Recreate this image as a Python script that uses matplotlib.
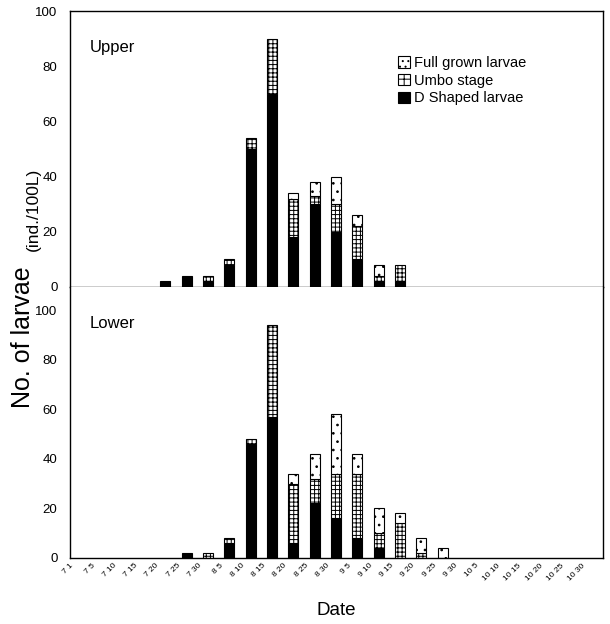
import numpy as np
import matplotlib.pyplot as plt
from matplotlib.patches import Patch
import matplotlib.transforms as mtransforms

plt.rcParams['font.family'] = ['Liberation Sans', 'DejaVu Sans']
plt.rcParams['hatch.linewidth'] = 0.7

# sampling dates (month day)
dates = ["7 1", "7 5", "7 10", "7 15", "7 20", "7 25", "7 30",
         "8 5", "8 10", "8 15", "8 20", "8 25", "8 30",
         "9 5", "9 10", "9 15", "9 20", "9 25", "9 30",
         "10 5", "10 10", "10 15", "10 20", "10 25", "10 30"]

# Upper layer (ind./100L)
upper_d_shaped = [0, 0, 0, 0, 2, 4, 2, 8, 50, 70, 18, 30, 20, 10, 2, 2, 0, 0, 0, 0, 0, 0, 0, 0, 0]
upper_umbo     = [0, 0, 0, 0, 0, 0, 2, 2, 4, 20, 14, 3, 10, 12, 2, 6, 0, 0, 0, 0, 0, 0, 0, 0, 0]
upper_full     = [0, 0, 0, 0, 0, 0, 0, 0, 0, 0, 2, 5, 10, 4, 4, 0, 0, 0, 0, 0, 0, 0, 0, 0, 0]

# Lower layer (ind./100L)
lower_d_shaped = [0, 0, 0, 0, 0, 2, 0, 6, 46, 57, 6, 22, 16, 8, 4, 0, 0, 0, 0, 0, 0, 0, 0, 0, 0]
lower_umbo     = [0, 0, 0, 0, 0, 0, 2, 2, 2, 37, 24, 10, 18, 26, 6, 14, 2, 0, 0, 0, 0, 0, 0, 0, 0]
lower_full     = [0, 0, 0, 0, 0, 0, 0, 0, 0, 0, 4, 10, 24, 8, 10, 4, 6, 4, 0, 0, 0, 0, 0, 0, 0]

W, H = 610, 624
fig = plt.figure(figsize=(W / 100, H / 100), dpi=100)
L, R = 70 / W, 603 / W
ax_up = fig.add_axes([L, 1 - 287 / H, R - L, (287 - 11) / H])
ax_lo = fig.add_axes([L, 1 - 558 / H, R - L, (558 - 287) / H])

x = np.arange(len(dates))
BW = 0.46
HATCH_U = '++++'
HATCH_F = '..'


def stack(ax, d, u, f):
    d = np.asarray(d, float); u = np.asarray(u, float); f = np.asarray(f, float)
    m = d > 0
    ax.bar(x[m], d[m], BW, color='black', edgecolor='black', lw=0.8)
    m = u > 0
    ax.bar(x[m], u[m], BW, bottom=d[m], color='white', edgecolor='black',
           hatch=HATCH_U, lw=0.8)
    m = f > 0
    ax.bar(x[m], f[m], BW, bottom=(d + u)[m], color='white', edgecolor='black',
           hatch=HATCH_F, lw=0.8)


stack(ax_up, upper_d_shaped, upper_umbo, upper_full)
stack(ax_lo, lower_d_shaped, lower_umbo, lower_full)

for ax in (ax_up, ax_lo):
    ax.set_xlim(-0.47, 24.52)
    ax.set_yticks(np.arange(0, 101, 20))
    ax.tick_params(axis='y', length=0, pad=9, labelsize=9.5)
    for s in ax.spines.values():
        s.set_linewidth(1.0)

ax_up.set_ylim(0, 100)
ax_lo.set_ylim(0, 109.3)
ax_up.set_xticks([])
ax_lo.spines['top'].set_visible(False)

ax_lo.set_xticks(x)
ax_lo.set_xticklabels(dates, rotation=45, ha='right', va='top', fontsize=6)
ax_lo.tick_params(axis='x', length=0, pad=3)
off = mtransforms.ScaledTranslation(-5 / 100, 0, fig.dpi_scale_trans)
for lab in ax_lo.get_xticklabels():
    lab.set_transform(lab.get_transform() + off)

ax_up.text(0.0375, 0.866, "Upper", transform=ax_up.transAxes, fontsize=12,
           va='center', ha='left')
ax_lo.text(0.0375, 0.867, "Lower", transform=ax_lo.transAxes, fontsize=12,
           va='center', ha='left')

handles = [Patch(facecolor='white', edgecolor='black', hatch='...', lw=0.8),
           Patch(facecolor='white', edgecolor='black', hatch='++', lw=0.8),
           Patch(facecolor='black', edgecolor='black', lw=0.8)]
labels = ["Full grown larvae", "Umbo stage", "D Shaped larvae"]
ax_up.legend(handles, labels, loc='upper left', bbox_to_anchor=(0.605, 0.858),
             frameon=False, fontsize=10.5, handlelength=0.8, handleheight=0.8,
             handletextpad=0.3, labelspacing=0.25, borderaxespad=0)

ax_lo.set_xlabel("Date", fontsize=13.5, labelpad=14)

fig.text(23 / W, 1 - 337 / H, "No. of larvae", rotation=90, fontsize=18,
         ha='center', va='center')
fig.text(33 / W, 1 - 209 / H, "(ind./100L)", rotation=90, fontsize=12.5,
         ha='center', va='center')

fig.savefig("out.png", dpi=100)
